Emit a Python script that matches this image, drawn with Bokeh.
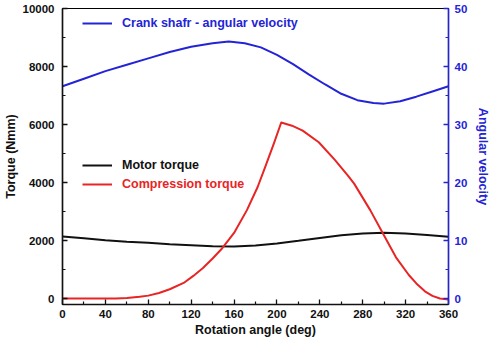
from bokeh.plotting import figure
from bokeh.models import Range1d, LinearAxis, FixedTicker, Legend, LegendItem
from bokeh.embed import file_html
from bokeh.resources import INLINE

# Angular velocity of crank shaft (right axis)
vel_angle = [0, 20, 40, 60, 80, 100, 120, 140, 155, 170, 185, 200, 215, 230, 245,
             260, 275, 290, 300, 315, 330, 345, 360]
vel_value = [36.6, 37.9, 39.2, 40.3, 41.4, 42.5, 43.4, 44.0, 44.3, 44.0, 43.3, 42.0,
             40.4, 38.6, 36.9, 35.3, 34.2, 33.7, 33.6, 34.0, 34.8, 35.7, 36.6]

# Motor torque (left axis)
motor_angle = [0, 20, 40, 60, 80, 100, 120, 140, 160, 180, 200, 220, 240, 260, 280,
               300, 320, 340, 360]
motor_value = [2140, 2080, 2010, 1960, 1920, 1870, 1835, 1800, 1795, 1830, 1900, 1990,
               2090, 2180, 2240, 2270, 2240, 2190, 2134]

# Compression torque (left axis)
comp_angle = [0, 20, 40, 50, 60, 72, 80, 90, 100, 113, 122, 131, 140, 149, 160, 172,
              182, 189, 197, 204, 214, 224, 239, 254, 266, 272, 287, 299, 311, 323,
              330, 338, 345, 352, 360]
comp_value = [0, 0, 0, 5, 20, 58, 100, 190, 320, 537, 780, 1050, 1380, 1735, 2260, 3048,
              3846, 4531, 5332, 6070, 5960, 5788, 5387, 4780, 4247, 3962, 3048, 2230,
              1420, 810, 520, 250, 90, 0, -30]

x_ticks = [0, 40, 80, 120, 160, 200, 240, 280, 320, 360]
x_minor = [20, 60, 100, 140, 180, 220, 260, 300, 340]
torque_ticks = [0, 2000, 4000, 6000, 8000, 10000]
torque_minor = [1000, 3000, 5000, 7000, 9000]
vel_ticks = [0, 10, 20, 30, 40, 50]
vel_minor = [5, 15, 25, 35, 45]

BLUE = "#2424d6"
RED = "#e82424"
BLACK = "#111111"
FONT = "Liberation Sans"

p = figure(width=493, height=339, output_backend="svg", toolbar_location=None,
           x_range=Range1d(0, 360), y_range=Range1d(-206, 10000),
           min_border_left=54, min_border_right=38, min_border_top=8, min_border_bottom=34)
p.extra_y_ranges = {"vel": Range1d(-1.03, 50)}
p.xgrid.visible = False
p.ygrid.visible = False
p.outline_line_color = "black"
p.outline_line_width = 1.2
p.background_fill_color = "white"
p.border_fill_color = "white"

r_vel = p.line(vel_angle, vel_value, y_range_name="vel", color=BLUE, line_width=2)
r_motor = p.line(motor_angle, motor_value, color=BLACK, line_width=2)
r_comp = p.line(comp_angle, comp_value, color=RED, line_width=2, line_join="round")

def style_axis(ax, color):
    ax.axis_line_color = color
    ax.axis_line_width = 1.5
    ax.major_tick_line_color = color
    ax.minor_tick_line_color = color
    ax.major_tick_in = 5
    ax.major_tick_out = 0
    ax.minor_tick_in = 3
    ax.minor_tick_out = 0
    ax.major_tick_line_width = 1.3
    ax.minor_tick_line_width = 1.2
    ax.major_label_text_font = FONT
    ax.major_label_text_font_style = "bold"
    ax.major_label_text_font_size = "11.5px"
    ax.major_label_text_color = color
    ax.axis_label_text_font = FONT
    ax.axis_label_text_font_style = "bold"
    ax.axis_label_text_font_size = "12.5px"
    ax.axis_label_text_color = color

xa = p.xaxis[0]
xa.ticker = FixedTicker(ticks=x_ticks, minor_ticks=x_minor)
xa.axis_label = "Rotation angle (deg)"
style_axis(xa, BLACK)
xa.major_label_standoff = 5
xa.axis_label_standoff = 2

ya = p.yaxis[0]
ya.ticker = FixedTicker(ticks=torque_ticks, minor_ticks=torque_minor)
ya.axis_label = "Torque (Nmm)"
style_axis(ya, BLACK)
ya.major_label_standoff = 8
ya.axis_label_standoff = 2

ra = LinearAxis(y_range_name="vel", axis_label="Angular velocity",
                ticker=FixedTicker(ticks=vel_ticks, minor_ticks=vel_minor))
style_axis(ra, BLUE)
ra.major_label_standoff = 6
ra.axis_label_standoff = 6
p.add_layout(ra, "right")

def make_legend(renderer, label, color, loc):
    lg = Legend(items=[LegendItem(label=label, renderers=[renderer])], location=loc,
                glyph_width=30, glyph_height=14, label_height=14, label_standoff=10,
                padding=0, margin=0, border_line_alpha=0, background_fill_alpha=0,
                label_text_font=FONT, label_text_font_style="bold",
                label_text_font_size="12.5px", label_text_color=color)
    p.add_layout(lg, "center")

make_legend(r_vel, "Crank shafr - angular velocity", BLUE, (20, 274))
make_legend(r_motor, "Motor torque", BLACK, (20, 132))
make_legend(r_comp, "Compression torque", RED, (20, 113))

open("out.html", "w").write(file_html(p, INLINE))
